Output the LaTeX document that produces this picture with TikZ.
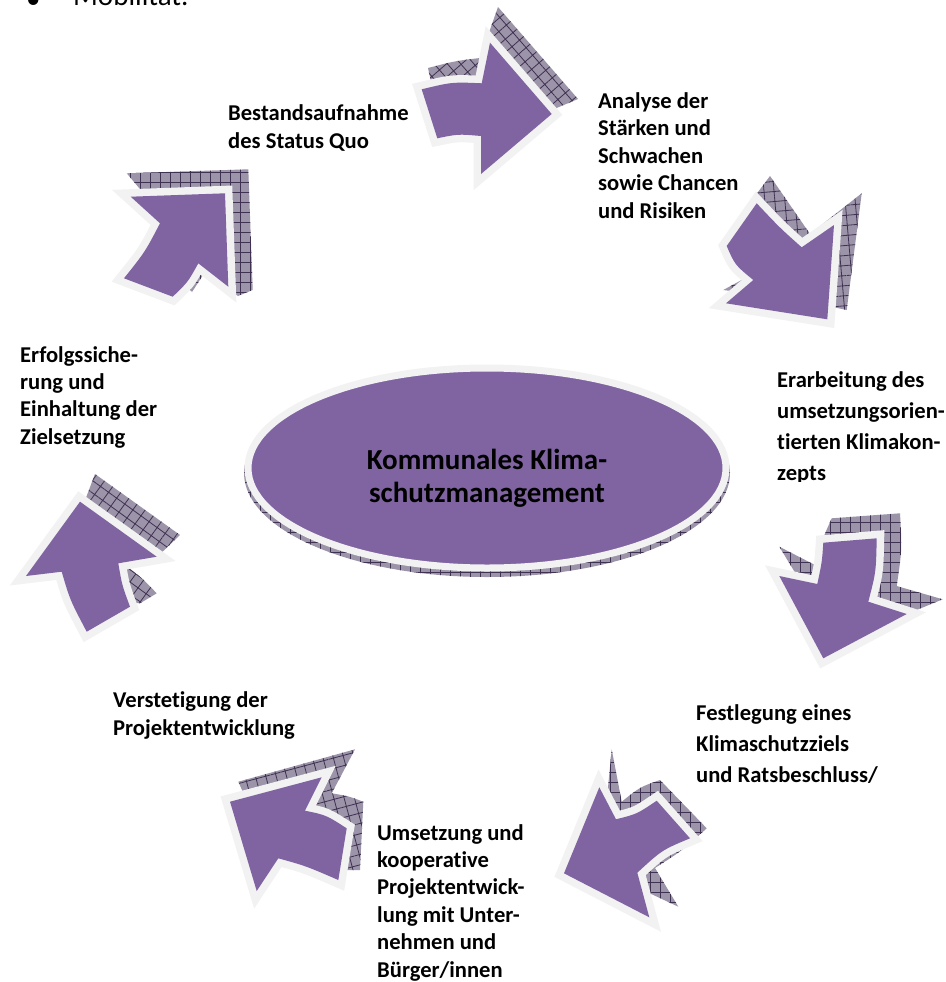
\documentclass[tikz,border=0pt]{standalone}
\usepackage{fontspec}
\setmainfont{Carlito}[Ligatures=NoCommon]
\usetikzlibrary{patterns.meta,shapes.geometric}
\definecolor{accent}{HTML}{8064A2}
\definecolor{rim}{HTML}{F2F2F2}
\definecolor{hatchbg}{HTML}{9C94A8}
\definecolor{hatchline}{HTML}{3F3151}
\begin{document}
\begin{tikzpicture}[x=1pt,y=-1pt,
  arrowbody/.style={fill=accent,
    preaction={draw=rim, line width=15pt, line join=miter, miter limit=3}},
  hatched/.style={fill=hatchbg,
    postaction={pattern={Hatch[angle=#1,distance=10pt,line width=0.8pt]},
                pattern color=hatchline}},
  steplabel/.style={font=\bfseries\fontsize{22.6}{#1}\selectfont,
    align=left, anchor=base west, inner sep=0pt},
  steplabel/.default=28,
  hubshape/.style={ellipse, fill=accent, draw=rim, line width=7pt,
    minimum width=478pt, minimum height=200pt, inner sep=0pt},
  hubtext/.style={font=\bfseries\fontsize{29}{33}\selectfont,
    align=center, inner sep=0pt},
]
\path[use as bounding box] (0,0) rectangle (945,982);
\clip (0,0) rectangle (945,982);
\fill[white] (0,0) rectangle (945,982);

% running text above the figure
\node[font=\fontsize{29}{35}\selectfont, anchor=base west, inner sep=0pt] (bullet) at (26,9) {•};
\node[font=\fontsize{29}{35}\selectfont, anchor=base west, inner sep=0pt] (mobil) at (73,6) {Mobilität.};

% central ellipse with its hatched base
\path[hatched=0] (487,473) ellipse [x radius=243, y radius=104];
\node[hubshape] (hub) at (487,468) {};
\node[hubtext] (hubtitle) at (487,478) {Kommunales Klima-\\schutzmanagement};

% arrow 1: top, pointing right
\path[hatched=41] (428,68) .. controls (455,61) .. (480,58) -- (498,7) -- (578,99)
  -- (540,115) -- (470,110) -- (435,100) -- cycle;
\path[arrowbody] (421.7,89.3) .. controls (452,82) .. (481.7,83.3) -- (490,42.7)
  -- (551.7,114) -- (481,174) -- (481,136) .. controls (458,134) .. (437.3,138.3) -- cycle;

% arrow 2: upper right, pointing down-right
\path[hatched=5] (770,176) -- (810,234) -- (861.7,193.3) -- (846.7,310) -- (800,300)
  -- (723.3,290) -- (760,270) -- (752,200) -- cycle;
\path[arrowbody] (756.7,203.3) .. controls (780,228) .. (801.7,247.3) -- (834,225)
  -- (827.3,319.3) -- (726,303.3) -- (753.3,280) .. controls (735,265) .. (726.7,246) -- cycle;

% arrow 3: right, pointing down
\path[hatched=0] (831.7,518.3) -- (900,513.3) .. controls (902,550) .. (896.7,586)
  -- (942.7,599.3) -- (880,625) -- (830,630) -- (779.3,546.7) -- (815,565)
  .. controls (822,540) .. (831.7,518.3) -- cycle;
\path[arrowbody] (823.3,542.7) -- (876.7,538.3) .. controls (876,572) .. (868.3,601.7)
  -- (906.7,614) -- (823.3,658.3) -- (779.3,576) -- (817.3,584)
  .. controls (822,562) .. (823.3,542.7) -- cycle;

% arrow 4: lower right, pointing down-left
\path[hatched=0] (611.7,749.3) -- (621.7,801.7) .. controls (640,787) .. (660,780)
  -- (706.7,828.3) .. controls (683,850) .. (655,868) -- (678.3,906.7) -- (600,870) -- cycle;
\path[arrowbody] (564,873.3) -- (599.3,787.3) -- (616,819.3) .. controls (637,814) .. (656.7,800.7)
  -- (690,838.3) .. controls (662,850) .. (637.3,872.7) -- (649.3,917.3) -- cycle;

% arrow 5: bottom left, pointing up-left
\path[hatched=15] (238.3,781.7) -- (355,749.3) -- (331.7,793.3) .. controls (348,796) .. (363.3,801.7)
  -- (360,870) -- (330,870) -- (260,830) -- cycle;
\path[arrowbody] (230,801.7) -- (321.7,777.3) -- (305,810.7) .. controls (326,815) .. (346.7,828.3)
  -- (338.3,880) .. controls (306,866) .. (278.3,858.3) -- (256.7,891) -- cycle;

% arrow 6: left, pointing up
\path[hatched=54] (95,474) -- (180,535) -- (158,556) -- (125,565) .. controls (142,578) .. (156.7,593.3)
  -- (140,603.3) -- (100,600) -- (70,540) -- cycle;
\path[arrowbody] (80,501.7) -- (156.7,556.7) -- (118.3,563.3) .. controls (122,585) .. (130,606.7)
  -- (86.7,631.7) .. controls (70,600) .. (61.7,571.7) -- (26,576) -- cycle;

% arrow 7: upper left, pointing up-right
\path[hatched=0] (126.7,173.3) -- (248.3,169.3) -- (252.7,290) -- (238,296) -- (205,272)
  -- (192,292) -- (160,250) -- (145,195) -- cycle;
\path[arrowbody] (225,193.3) -- (228.3,286.7) -- (198.3,263.3) .. controls (188,282) .. (172.7,296.7)
  -- (124,278.3) .. controls (145,252) .. (160,223.3) -- (130.7,196.7) -- cycle;

% step labels (anchored at the baseline of their last line)
\node[steplabel] (s1) at (228,148) {Bestandsaufnahme\\des Status Quo};
\node[steplabel=27.5] (s2) at (598,218) {Analyse der\\Stärken und\\Schwachen\\sowie Chancen\\und Risiken};
\begin{scope}
  \clip (760,350) rectangle (945,481);
  \node[steplabel=31] (s3) at (777,480) {Erarbeitung des\\umsetzungsorien-\\tierten Klimakon-\\zepts};
\end{scope}
\node[steplabel=31] (s4) at (696,782) {Festlegung eines\\Klimaschutzziels\\und Ratsbeschluss/};
\node[steplabel=27.4] (s5) at (377,977) {Umsetzung und\\kooperative\\Projektentwick-\\lung mit Unter-\\nehmen und\\Bürger/innen};
\node[steplabel] (s6) at (113,735) {Verstetigung der\\Projektentwicklung};
\node[steplabel=27.3] (s7) at (20,444) {Erfolgssiche-\\rung und\\Einhaltung der\\Zielsetzung};
\end{tikzpicture}
\end{document}
